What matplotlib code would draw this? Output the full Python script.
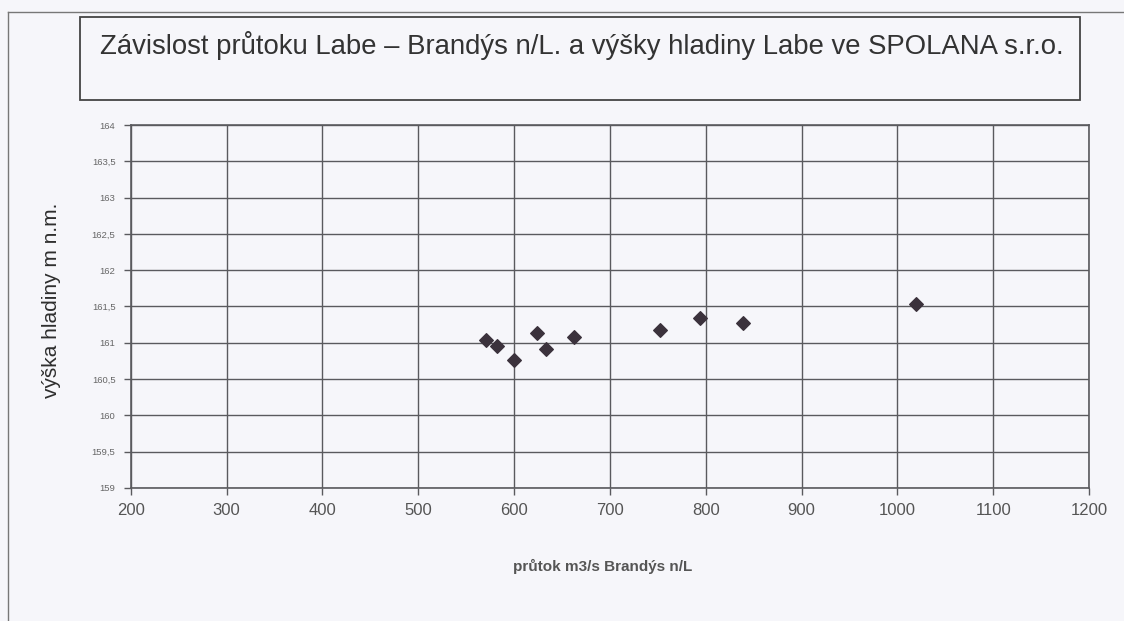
import matplotlib
matplotlib.use("Agg")
import matplotlib.pyplot as plt
from matplotlib.patches import Rectangle
from matplotlib.lines import Line2D
from matplotlib.ticker import FuncFormatter

# data
prutok = [571, 582, 600, 624, 633, 663, 752, 794, 839, 1019]
hladina = [161.04, 160.95, 160.76, 161.14, 160.92, 161.08, 161.18, 161.34, 161.27, 161.54]

x_ticks = [200, 300, 400, 500, 600, 700, 800, 900, 1000, 1100, 1200]
y_ticks = [159, 159.5, 160, 160.5, 161, 161.5, 162, 162.5, 163, 163.5, 164]

title = "Závislost průtoku Labe – Brandýs n/L. a výšky hladiny Labe ve SPOLANA s.r.o."
xlabel = "průtok m3/s Brandýs n/L"
ylabel = "výška hladiny m n.m."

bg = "#f6f6fa"
grid_c = "#5a5a5e"

plt.rcParams['font.family'] = ['Liberation Sans', 'DejaVu Sans']

fig = plt.figure(figsize=(11.24, 6.21), dpi=100)
fig.patch.set_facecolor(bg)

ax = fig.add_axes([0.1163, 0.2142, 0.8527, 0.5845])
ax.set_facecolor(bg)

ax.scatter(prutok, hladina, marker="D", s=48, color="#3b323c", zorder=3)

ax.set_xlim(200, 1200)
ax.set_ylim(159, 164)
ax.set_xticks(x_ticks)
ax.set_yticks(y_ticks)
ax.yaxis.set_major_formatter(FuncFormatter(lambda v, p: ("%g" % v).replace(".", ",")))
ax.grid(True, color=grid_c, linewidth=1.0)
ax.set_axisbelow(True)
for s in ax.spines.values():
    s.set_color(grid_c)
    s.set_linewidth(1.2)

ax.tick_params(axis="x", labelsize=12, colors="#555555", length=5, width=1, direction="out", pad=6)
ax.tick_params(axis="y", labelsize=6.8, colors="#666666", length=5, width=1, direction="out", pad=6)
ax.tick_params(axis="both", color=grid_c)

fig.text(0.5365, 0.0885, xlabel, ha="center", va="center", fontsize=11, fontweight="bold", color="#555555")
fig.text(52 / 1124, 1 - 300 / 621, ylabel, ha="center", va="center", rotation=90, fontsize=15, color="#2e2e2e")

# title box
fig.patches.append(Rectangle((80 / 1124, 1 - 100 / 621), 1000 / 1124, 83 / 621,
                             transform=fig.transFigure, facecolor=bg, edgecolor="#444444", linewidth=1.3))
fig.text(100 / 1124, 1 - 45 / 621, title, ha="left", va="center", fontsize=19.8, color="#333333")

# outer frame lines
fig.lines.append(Line2D([8 / 1124, 1.0], [1 - 12 / 621, 1 - 12 / 621], transform=fig.transFigure, color="#777777", linewidth=1))
fig.lines.append(Line2D([8 / 1124, 8 / 1124], [0.0, 1 - 12 / 621], transform=fig.transFigure, color="#777777", linewidth=1))

fig.savefig("out.png", dpi=100, facecolor=bg)
